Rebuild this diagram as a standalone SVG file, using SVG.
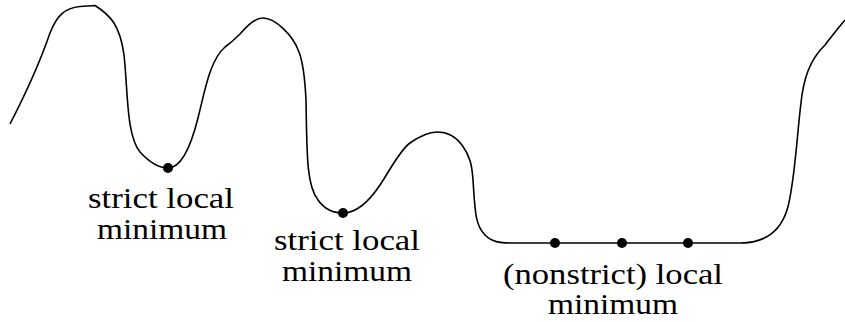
<svg xmlns="http://www.w3.org/2000/svg" width="845" height="322" viewBox="0 0 845 322">
<style>
.curve{fill:none;stroke:#000;stroke-width:1.6;stroke-linejoin:round}
.dot{fill:#000}
.lbl{font-family:'Liberation Serif','DejaVu Serif','Times New Roman',Times,serif;font-size:30px;fill:#000;text-anchor:middle}
</style>
<rect width="845" height="322" fill="#fff"/>
<g id="connectors">
<path class="curve" d="M10,124 C25,95 40,62 50,33 C57,15 65,8 80,6.5 L95,5.5 C110,15 120,25 124,55 C128,90 126,135 140,152 C150,163 160,168 168,168 C180,168 190,150 198,118 C205,90 210,60 225,47 C232,42 236,38 240,34 C248,25 255,18 263,18 C275,18 293,35 299,52 C303,62 305,80 306,100 C307,150 306,185 318,200 C325,210 335,213 343,213 C355,213 368,203 380,185 C390,170 400,150 410,143 C420,136 430,132 437,132 C447,132 456,137 462,145 C470,156 472,165 473,180 C475,210 475,225 485,235 C492,242 500,243 510,243 L740,243 C765,243 780,232 787,210 C795,185 797,130 802,95 C806,68 815,55 825,45 C832,36 838,28 845,20"/>
</g>
<g id="min1"><circle class="dot" cx="168" cy="168" r="5"/><text class="lbl" x="161" y="208" textLength="146" lengthAdjust="spacingAndGlyphs">strict local</text><text class="lbl" x="162" y="239" textLength="130" lengthAdjust="spacingAndGlyphs">minimum</text></g>
<g id="min2"><circle class="dot" cx="343" cy="213" r="5"/><text class="lbl" x="347" y="250" textLength="146" lengthAdjust="spacingAndGlyphs">strict local</text><text class="lbl" x="347" y="281" textLength="130" lengthAdjust="spacingAndGlyphs">minimum</text></g>
<g id="min3"><circle class="dot" cx="555" cy="243" r="5"/><circle class="dot" cx="622" cy="243" r="5"/><circle class="dot" cx="688" cy="243" r="5"/><text class="lbl" x="613" y="284" textLength="220" lengthAdjust="spacingAndGlyphs">(nonstrict) local</text><text class="lbl" x="613" y="314" textLength="130" lengthAdjust="spacingAndGlyphs">minimum</text></g>
</svg>
